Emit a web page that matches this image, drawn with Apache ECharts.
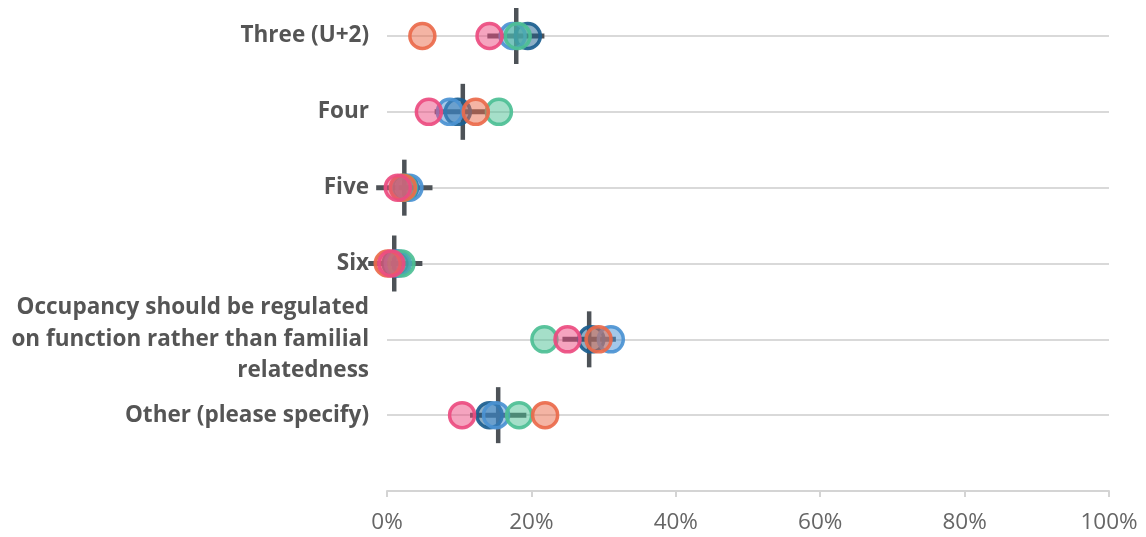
<!DOCTYPE html>
<html><head><meta charset="utf-8">
<script src="https://cdn.jsdelivr.net/npm/echarts@6/dist/echarts.min.js"></script>
<style>html,body{margin:0;padding:0;background:#fff}#c{width:1146px;height:537px}</style>
</head><body><div id="c"></div>
<script>
var categories = ['Three (U+2)', 'Four', 'Five', 'Six', 'Occupancy should be regulated\non function rather than familial\nrelatedness', 'Other (please specify)', ''];
var xTicks = [0, 20, 40, 60, 80, 100];
var groupNames = ['Group 1', 'Group 2', 'Group 3', 'Group 4', 'Group 5'];
var groupColors = ['#1b5e8f', '#4b92d3', '#4dbf95', '#ea6a4b', '#ec4c80'];
var group1 = [19.5, 9.8, 2.5, 1.2, 28.3, 14.2];
var group2 = [17.4, 8.7, 3.1, 1.5, 31.0, 15.1];
var group3 = [18.1, 15.5, 2.3, 2.0, 21.8, 18.3];
var group4 = [4.9, 12.3, 2.2, 0.1, 29.3, 21.9];
var group5 = [14.2, 5.8, 1.5, 0.6, 25.0, 10.4];
var overallMean = [17.9, 10.5, 2.4, 1.0, 28.0, 15.4];
var overallLow = [13.9, 6.6, -1.5, -2.6, 24.3, 11.5];
var overallHigh = [21.8, 14.2, 6.3, 4.9, 31.7, 19.3];

var groups = [group1, group2, group3, group4, group5];
var chart = echarts.init(document.getElementById('c'), null, {renderer: 'canvas'});

function hexA(h, a) {
  var r = parseInt(h.substr(1, 2), 16), g = parseInt(h.substr(3, 2), 16), b = parseInt(h.substr(5, 2), 16);
  return 'rgba(' + r + ',' + g + ',' + b + ',' + a + ')';
}

var series = [{
  type: 'custom',
  name: 'Overall',
  clip: false,
  z: 1,
  data: overallMean.map(function (m, i) { return [i, m, overallLow[i], overallHigh[i]]; }),
  encode: {x: [1, 2, 3], y: 0},
  renderItem: function (params, api) {
    var c = api.value(0);
    var pm = api.coord([api.value(1), c]);
    var pl = api.coord([api.value(2), c]);
    var ph = api.coord([api.value(3), c]);
    return {type: 'group', children: [
      {type: 'line', shape: {x1: pl[0], y1: pl[1], x2: ph[0], y2: ph[1]}, style: {stroke: '#4d5257', lineWidth: 5}},
      {type: 'line', shape: {x1: pm[0], y1: pm[1] - 28, x2: pm[0], y2: pm[1] + 28}, style: {stroke: '#4d5257', lineWidth: 4.5}}
    ]};
  }
}];
groups.forEach(function (g, k) {
  series.push({
    type: 'scatter',
    name: groupNames[k],
    clip: false,
    z: 2 + k,
    symbol: 'circle',
    symbolSize: 25,
    itemStyle: {color: hexA(groupColors[k], 0.55), borderColor: groupColors[k], borderWidth: 3.5, opacity: 0.92},
    emphasis: {disabled: true},
    data: g.map(function (v, i) { return [v, i]; })
  });
});

chart.setOption({
  animation: false,
  backgroundColor: '#ffffff',
  grid: {left: 387, right: 37, top: 36, bottom: 46, containLabel: false},
  xAxis: {
    type: 'value', min: 0, max: 100, interval: 20,
    axisLine: {show: true, lineStyle: {color: '#d4d4d4', width: 2}},
    axisTick: {show: true, length: 6, lineStyle: {color: '#d4d4d4', width: 2}},
    splitLine: {show: false},
    axisLabel: {
      margin: 20, color: '#666666', fontSize: 22.5, fontFamily: 'Open Sans',
      formatter: function (v) { return xTicks.indexOf(v) >= 0 ? v + '%' : ''; }
    }
  },
  yAxis: {
    type: 'category', data: categories, inverse: true, boundaryGap: false,
    axisLine: {show: false}, axisTick: {show: false},
    splitLine: {show: true, lineStyle: {color: '#d9d9d9', width: 2}},
    axisLabel: {
      margin: 18, color: '#555555', fontSize: 22.5, fontWeight: 'bold', fontFamily: 'Open Sans',
      lineHeight: 31.5, align: 'right', interval: 0, padding: [4, 0, 0, 0]
    }
  },
  series: series
});
</script></body></html>
